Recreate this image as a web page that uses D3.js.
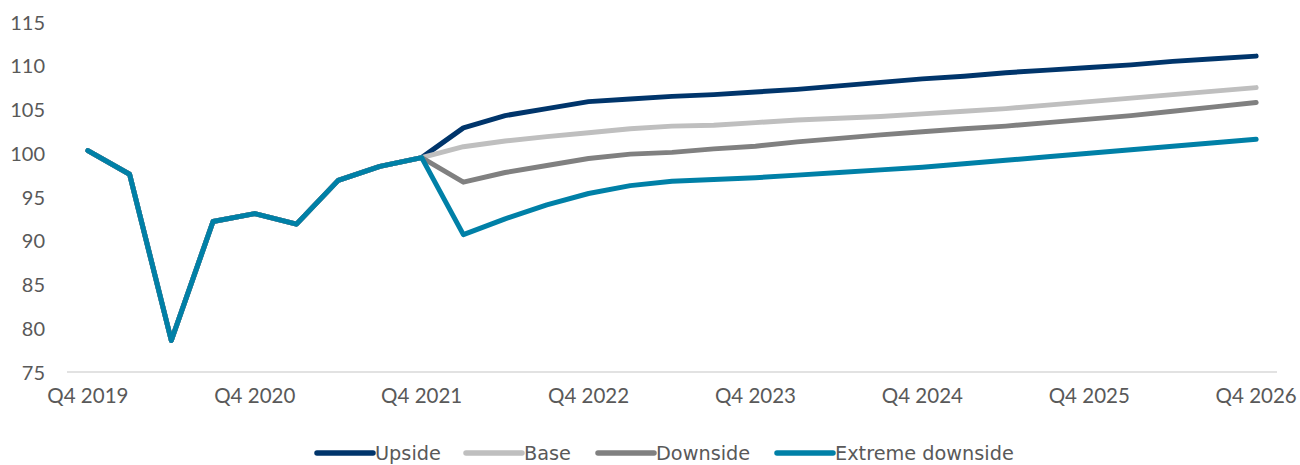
<!DOCTYPE html>
<html><head><meta charset="utf-8">
<script src="https://cdn.jsdelivr.net/npm/d3@7"></script>
<style>body{margin:0;background:#fff}svg{display:block}</style>
</head><body><svg id="c" width="1300" height="465"></svg>
<script>
const quarters = [];
for (let y = 2019; y <= 2026; y++) for (let q = 1; q <= 4; q++) {
  if (y === 2019 && q < 4) continue;
  quarters.push("Q" + q + " " + y);
}
const tickLabels = ["Q4 2019","Q4 2020","Q4 2021","Q4 2022","Q4 2023","Q4 2024","Q4 2025","Q4 2026"];
const yTicks = [75,80,85,90,95,100,105,110,115];
const history = [100.3, 97.6, 78.6, 92.2, 93.1, 91.9, 96.9, 98.5, 99.5];
const upside = [99.5, 102.9, 104.3, 105.1, 105.9, 106.2, 106.5, 106.7, 107.0, 107.3, 107.7, 108.1, 108.5, 108.8, 109.2, 109.5, 109.8, 110.1, 110.5, 110.8, 111.1];
const base = [99.5, 100.75, 101.4, 101.9, 102.35, 102.8, 103.1, 103.2, 103.5, 103.8, 104.0, 104.2, 104.5, 104.8, 105.1, 105.5, 105.9, 106.3, 106.7, 107.1, 107.5];
const downside = [99.5, 96.7, 97.8, 98.6, 99.4, 99.9, 100.1, 100.5, 100.8, 101.3, 101.7, 102.1, 102.45, 102.8, 103.1, 103.5, 103.9, 104.3, 104.8, 105.3, 105.8];
const extreme = [99.5, 90.7, 92.5, 94.1, 95.4, 96.3, 96.8, 97.0, 97.2, 97.5, 97.8, 98.1, 98.4, 98.8, 99.2, 99.6, 100.0, 100.4, 100.8, 101.2, 101.6];
const seriesNames = ["Upside","Base","Downside","Extreme downside"];
const colors = ["#00356B","#BFBFBF","#808080","#0080A7"];

const svg = d3.select("#c");
const x = d3.scaleBand().domain(quarters).range([67, 1277]);
const xc = d => x(d) + x.bandwidth()/2;
const y = d3.scaleLinear().domain([75,115]).range([372, 22]);

const font = "Lato, 'Open Sans', sans-serif";

svg.append("line").attr("x1",67).attr("x2",1277).attr("y1",y(75)).attr("y2",y(75))
  .attr("stroke","#D9D9D9").attr("stroke-width",1.5);

const yAxis = d3.axisLeft(y).tickValues(yTicks).tickSize(0).tickPadding(0);
const gy = svg.append("g").attr("transform","translate(45,0)").call(yAxis);
gy.select(".domain").remove();
gy.selectAll("text").attr("font-family",font).attr("font-size",20).attr("fill","#595959").attr("dy","0.35em");

const xAxis = d3.axisBottom(x).tickValues(tickLabels).tickSize(0).tickPadding(0);
const gx = svg.append("g").attr("transform","translate(0,389)").call(xAxis);
gx.select(".domain").remove();
gx.selectAll("text").attr("font-family",font).attr("font-size",20.5).attr("fill","#595959").attr("dy","0.7em");

const line = d3.line().x(d => xc(d.q)).y(d => y(d.v));
const fc = [upside, base, downside, extreme];
fc.forEach((arr, i) => {
  const pts = history.map((v,j)=>({q:quarters[j],v}))
    .concat(arr.slice(1).map((v,j)=>({q:quarters[j+history.length], v})));
  svg.append("path").datum(pts).attr("d", line).attr("fill","none")
    .attr("stroke", colors[i]).attr("stroke-width",5)
    .attr("stroke-linejoin","round").attr("stroke-linecap","round");
});

const legX = [317, 466, 598, 777];
const lg = svg.append("g");
seriesNames.forEach((n,i)=>{
  lg.append("line").attr("x1",legX[i]).attr("x2",legX[i]+56).attr("y1",453).attr("y2",453)
    .attr("stroke",colors[i]).attr("stroke-width",5.5).attr("stroke-linecap","round");
  lg.append("text").attr("x",legX[i]+58).attr("y",453).attr("dy","0.36em")
    .attr("font-family","'DejaVu Sans', sans-serif").attr("font-size",19.3).attr("fill","#595959").text(n);
});
</script></body></html>
